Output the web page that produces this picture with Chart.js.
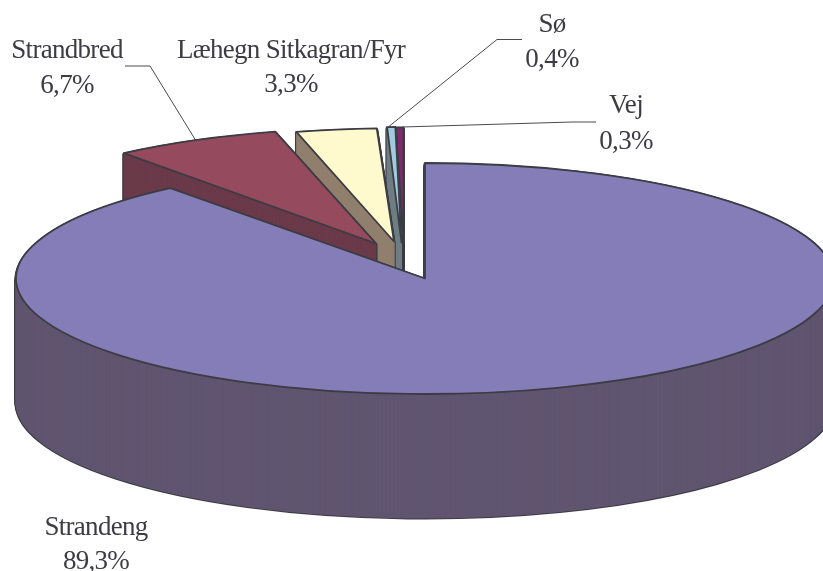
<!DOCTYPE html>
<html>
<head>
<meta charset="utf-8">
<style>html,body{margin:0;padding:0;background:#fff}canvas{display:block}</style>
<script src="https://cdn.jsdelivr.net/npm/chart.js@4"></script>
</head>
<body>
<canvas id="c" width="823" height="571" style="width:823px;height:571px"></canvas>
<script>
const categories = ['Strandeng', 'Strandbred', 'Læhegn Sitkagran/Fyr', 'Sø', 'Vej'];
const shares = [89.3, 6.7, 3.3, 0.4, 0.3];
const topColors = ['#857db8', '#954a5e', '#fffacd', '#a3cbdf', '#7f2a6c'];
const wallColors = ['#605570', '#6b3a4a', '#907f6c', '#6e7e84', '#3a3545'];

// Styling of the 3D projection
const CENTER = {x: 425, y: 278.5}, RX = 409, RY = 115.5, DEPTH = 124;
const EXPLODE = [[0,0,1,1], [-49,-35,.99,1], [-31,-37,.96,.98], [-23.5,-36,.8,1], [-21.5,-35.5,1,1]];
const DRAW_ORDER = [4, 3, 2, 1, 0];
const LINE = '#3c3c44';
const LABEL_POS = [[96,535,569], [67,58,93], [291,58,92], [552,32,67], [626,113,149]];
const LEADERS = [
  null,
  [[125,66],[150,66],[195.5,140]],
  null,
  [[387,128],[497,39.5],[522,39.5]],
  [[402,127],[572,122],[596,122]]
];

const pie3d = {
  id: 'pie3d',
  beforeDatasetsDraw(chart) {
    const ctx = chart.ctx;
    const arcs = chart.getDatasetMeta(0).data;
    ctx.stroke = function () {
      ctx.save();
      ctx.setTransform(1, 0, 0, 1, 0, 0);
      CanvasRenderingContext2D.prototype.stroke.call(ctx);
      ctx.restore();
    };
    const paint = (arc, i, depth, fill, stroke, width) => {
      const [dx, dy, kx, ky] = EXPLODE[i];
      const saved = arc.options;
      arc.options = Object.assign({}, saved, {
        backgroundColor: fill, borderColor: stroke, borderWidth: width,
        borderJoinStyle: 'round', offset: 0
      });
      ctx.save();
      ctx.translate(CENTER.x + dx, CENTER.y + dy + depth);
      ctx.scale(RX * kx / arc.outerRadius, RY * ky / arc.outerRadius);
      ctx.translate(-arc.x, -arc.y);
      arc.draw(ctx);
      ctx.restore();
      arc.options = saved;
    };
    DRAW_ORDER.forEach(i => {
      const arc = arcs[i];
      for (let d = DEPTH; d > 0; d -= 1) paint(arc, i, d, LINE, LINE, 3);
      for (let d = DEPTH; d > 0; d -= 1) paint(arc, i, d, wallColors[i], wallColors[i], 1);
      paint(arc, i, 0, topColors[i], LINE, 1.8);
    });
    delete ctx.stroke;
    return false;
  },
  afterDraw(chart) {
    const ctx = chart.ctx;
    ctx.save();
    ctx.strokeStyle = '#4a4a50';
    ctx.lineWidth = 1;
    LEADERS.forEach(pts => {
      if (!pts) return;
      ctx.beginPath();
      pts.forEach((p, k) => k ? ctx.lineTo(p[0], p[1]) : ctx.moveTo(p[0], p[1]));
      ctx.stroke();
    });
    ctx.fillStyle = '#3c3c44';
    ctx.font = '27px "Liberation Serif"';
    ctx.textAlign = 'center';
    ctx.textBaseline = 'alphabetic';
    ctx.letterSpacing = '-0.7px';
    categories.forEach((name, i) => {
      const [x, y1, y2] = LABEL_POS[i];
      ctx.fillText(name, x, y1);
      ctx.fillText(shares[i].toFixed(1).replace('.', ',') + '%', x, y2);
    });
    ctx.restore();
  }
};

new Chart(document.getElementById('c'), {
  type: 'pie',
  data: {labels: categories, datasets: [{data: shares, backgroundColor: topColors, borderWidth: 0}]},
  options: {
    responsive: false,
    animation: false,
    layout: {padding: 0},
    plugins: {legend: {display: false}, tooltip: {enabled: false}, title: {display: false}}
  },
  plugins: [pie3d]
});
</script>
</body>
</html>
